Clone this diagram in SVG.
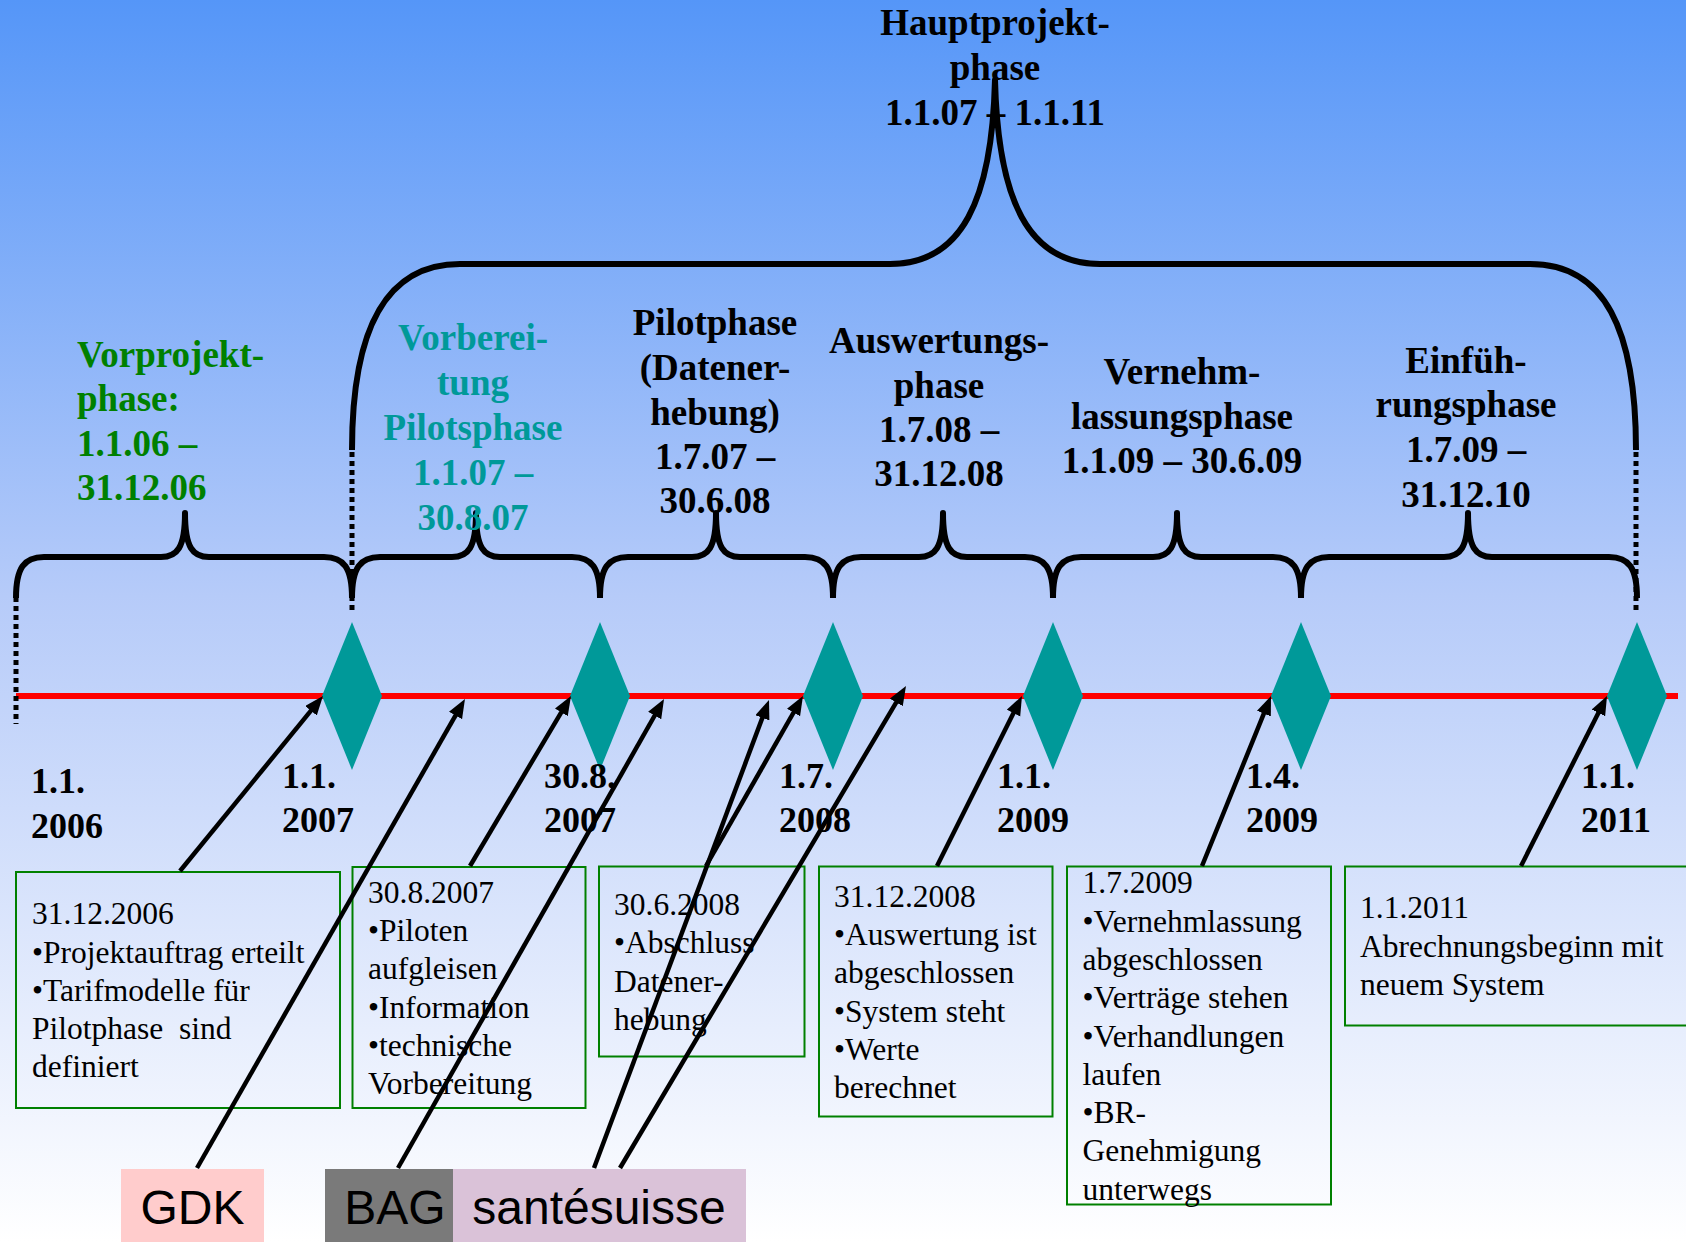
<svg xmlns="http://www.w3.org/2000/svg" width="1686" height="1242" viewBox="0 0 1686 1242">
<defs>
<linearGradient id="bg" x1="0" y1="0" x2="0" y2="1">
<stop offset="0" stop-color="#5596F8"/>
<stop offset="0.48" stop-color="#B6CBF9"/>
<stop offset="1" stop-color="#FFFFFF"/>
</linearGradient>
<marker id="ah" markerUnits="userSpaceOnUse" markerWidth="20" markerHeight="16" viewBox="0 0 20 16" refX="11" refY="7.5" orient="auto">
<path d="M0,0 L19,7.5 L0,15 z" fill="#000"/>
</marker>
<style>
.ph{font-family:"Liberation Serif","Times New Roman",serif;font-weight:bold;font-size:37px;}
.dt{font-family:"Liberation Serif","Times New Roman",serif;font-weight:bold;font-size:36px;fill:#000;}
.bx{font-family:"Liberation Serif","Times New Roman",serif;font-size:31.5px;fill:#000;}
.box{fill:none;stroke:#008000;stroke-width:2;}
.dia{fill:#009999;}
.brace{fill:none;stroke:#000;stroke-width:6;stroke-linejoin:round;}
.dot{fill:none;stroke:#000;stroke-width:5;stroke-dasharray:5 4;}
.arr{fill:none;stroke:#000;stroke-width:4.5;marker-end:url(#ah);}
.lab{font-family:"Liberation Sans",Arial,sans-serif;font-size:48px;fill:#000;}
</style>
</defs>
<rect x="0" y="0" width="1686" height="1242" fill="url(#bg)"/>

<g id="timeline">
<line x1="16" y1="696" x2="1678" y2="696" stroke="#FF0000" stroke-width="6"/>
</g>

<g id="dotted">
<line class="dot" x1="16" y1="597" x2="16" y2="724"/>
<line class="dot" x1="352" y1="452" x2="352" y2="614"/>
<line class="dot" x1="1636" y1="452" x2="1636" y2="614"/>
</g>

<g id="braces">
<path class="brace" d="M352,450 C352,330 385,264 460,264 L890,264 C962,264 992,200 995,80 C998,200 1028,264 1100,264 L1530,264 C1605,264 1636,330 1636,450"/>
<path class="brace" d="M16,598 C16,568 24,557 44,557 L161,557 C177,557 185,548 185,513 C185,548 193,557 209,557 L324,557 C344,557 352,568 352,598"/>
<path class="brace" d="M352,598 C352,568 360,557 380,557 L452,557 C468,557 476,548 476,513 C476,548 484,557 500,557 L572,557 C592,557 600,568 600,598"/>
<path class="brace" d="M600,598 C600,568 608,557 628,557 L692,557 C708,557 716,548 716,513 C716,548 724,557 740,557 L805,557 C825,557 833,568 833,598"/>
<path class="brace" d="M833,598 C833,568 841,557 861,557 L919,557 C935,557 943,548 943,513 C943,548 951,557 967,557 L1025,557 C1045,557 1053,568 1053,598"/>
<path class="brace" d="M1053,598 C1053,568 1061,557 1081,557 L1153,557 C1169,557 1177,548 1177,513 C1177,548 1185,557 1201,557 L1273,557 C1293,557 1301,568 1301,598"/>
<path class="brace" d="M1301,598 C1301,568 1309,557 1329,557 L1444,557 C1460,557 1468,548 1468,513 C1468,548 1476,557 1492,557 L1609,557 C1629,557 1637,568 1637,598"/>
</g>

<g id="phase-haupt" class="ph" text-anchor="middle" fill="#000">
<text x="995" y="35">Hauptprojekt-</text>
<text x="995" y="80">phase</text>
<text x="995" y="125">1.1.07 – 1.1.11</text>
</g>
<g id="phase-vorprojekt" class="ph" fill="#008000">
<text x="77" y="366.5">Vorprojekt-</text>
<text x="77" y="411">phase:</text>
<text x="77" y="455.5">1.1.06 –</text>
<text x="77" y="500">31.12.06</text>
</g>
<g id="phase-vorbereitung" class="ph" text-anchor="middle" fill="#009999">
<text x="473" y="350">Vorberei-</text>
<text x="473" y="395">tung</text>
<text x="473" y="440">Pilotsphase</text>
<text x="473" y="485">1.1.07 –</text>
<text x="473" y="530">30.8.07</text>
</g>
<g id="phase-pilot" class="ph" text-anchor="middle" fill="#000">
<text x="715" y="335">Pilotphase</text>
<text x="715" y="380">(Datener-</text>
<text x="715" y="425">hebung)</text>
<text x="715" y="469">1.7.07 –</text>
<text x="715" y="513">30.6.08</text>
</g>
<g id="phase-auswertung" class="ph" text-anchor="middle" fill="#000">
<text x="939" y="353">Auswertungs-</text>
<text x="939" y="398">phase</text>
<text x="939" y="442">1.7.08 –</text>
<text x="939" y="486">31.12.08</text>
</g>
<g id="phase-vernehmlassung" class="ph" text-anchor="middle" fill="#000">
<text x="1182" y="384">Vernehm-</text>
<text x="1182" y="429">lassungsphase</text>
<text x="1182" y="473">1.1.09 – 30.6.09</text>
</g>
<g id="phase-einfuehrung" class="ph" text-anchor="middle" fill="#000">
<text x="1466" y="373">Einfüh-</text>
<text x="1466" y="417">rungsphase</text>
<text x="1466" y="462">1.7.09 –</text>
<text x="1466" y="507">31.12.10</text>
</g>

<g id="m-2007-01"><polygon class="dia" points="352,622 382,696 352,770 322,696"/></g>
<g id="m-2007-08"><polygon class="dia" points="600,622 630,696 600,770 570,696"/></g>
<g id="m-2008-07"><polygon class="dia" points="833,622 863,696 833,770 803,696"/></g>
<g id="m-2009-01"><polygon class="dia" points="1053,622 1083,696 1053,770 1023,696"/></g>
<g id="m-2009-04"><polygon class="dia" points="1301,622 1331,696 1301,770 1271,696"/></g>
<g id="m-2011-01"><polygon class="dia" points="1637,622 1667,696 1637,770 1607,696"/></g>

<g id="dates" class="dt">
<text x="31" y="793">1.1.</text><text x="31" y="838">2006</text>
<text x="282" y="788">1.1.</text><text x="282" y="832">2007</text>
<text x="544" y="788">30.8.</text><text x="544" y="832">2007</text>
<text x="779" y="788">1.7.</text><text x="779" y="832">2008</text>
<text x="997" y="788">1.1.</text><text x="997" y="832">2009</text>
<text x="1246" y="788">1.4.</text><text x="1246" y="832">2009</text>
<text x="1581" y="788">1.1.</text><text x="1581" y="832">2011</text>
</g>

<g id="box-2006">
<rect class="box" x="16" y="872" width="324" height="236"/>
<text class="bx" x="32" y="924">31.12.2006</text>
<text class="bx" x="32" y="962.5">•Projektauftrag erteilt</text>
<text class="bx" x="32" y="1000.8">•Tarifmodelle für</text>
<text class="bx" x="32" y="1039" xml:space="preserve">Pilotphase  sind</text>
<text class="bx" x="32" y="1077.3">definiert</text>
</g>
<g id="box-2007">
<rect class="box" x="352.5" y="867" width="233" height="241"/>
<text class="bx" x="368" y="902.7">30.8.2007</text>
<text class="bx" x="368" y="941">•Piloten</text>
<text class="bx" x="368" y="979.3">aufgleisen</text>
<text class="bx" x="368" y="1017.6">•Information</text>
<text class="bx" x="368" y="1055.9">•technische</text>
<text class="bx" x="368" y="1094.2">Vorbereitung</text>
</g>
<g id="box-2008a">
<rect class="box" x="599" y="866.5" width="205.5" height="190"/>
<text class="bx" x="614" y="915">30.6.2008</text>
<text class="bx" x="614" y="953.3">•Abschluss</text>
<text class="bx" x="614" y="991.6">Datener-</text>
<text class="bx" x="614" y="1029.9">hebung</text>
</g>
<g id="box-2008b">
<rect class="box" x="819" y="866.5" width="233.5" height="250"/>
<text class="bx" x="834" y="906.7">31.12.2008</text>
<text class="bx" x="834" y="945">•Auswertung ist</text>
<text class="bx" x="834" y="983.3">abgeschlossen</text>
<text class="bx" x="834" y="1021.6">•System steht</text>
<text class="bx" x="834" y="1059.9">•Werte</text>
<text class="bx" x="834" y="1098.2">berechnet</text>
</g>
<g id="box-2009">
<rect class="box" x="1067" y="866.5" width="264" height="338"/>
<text class="bx" x="1082.5" y="893.3">1.7.2009</text>
<text class="bx" x="1082.5" y="931.6">•Vernehmlassung</text>
<text class="bx" x="1082.5" y="969.9">abgeschlossen</text>
<text class="bx" x="1082.5" y="1008.2">•Verträge stehen</text>
<text class="bx" x="1082.5" y="1046.5">•Verhandlungen</text>
<text class="bx" x="1082.5" y="1084.8">laufen</text>
<text class="bx" x="1082.5" y="1123.1">•BR-</text>
<text class="bx" x="1082.5" y="1161.4">Genehmigung</text>
<text class="bx" x="1082.5" y="1199.7">unterwegs</text>
</g>
<g id="box-2011">
<rect class="box" x="1345" y="866.5" width="350" height="159"/>
<text class="bx" x="1360" y="918.3">1.1.2011</text>
<text class="bx" x="1360" y="956.6">Abrechnungsbeginn mit</text>
<text class="bx" x="1360" y="994.9">neuem System</text>
</g>

<g id="gdk">
<rect x="121" y="1169" width="143" height="80" fill="#FFCCCC"/>
<text class="lab" x="192.5" y="1224" text-anchor="middle">GDK</text>
</g>
<g id="bag">
<rect x="325" y="1169" width="128" height="80" fill="#7A7A7A"/>
<text class="lab" x="395" y="1224" text-anchor="middle">BAG</text>
</g>
<g id="santesuisse">
<rect x="453" y="1169" width="293" height="80" fill="#DAC2D8"/>
<text class="lab" x="599" y="1224" text-anchor="middle">santésuisse</text>
</g>

<g id="connectors">
<line class="arr" x1="180" y1="871" x2="317.9" y2="702.2"/>
<line class="arr" x1="197" y1="1168" x2="461" y2="705.9"/>
<line class="arr" x1="470" y1="866" x2="566.9" y2="702.9"/>
<line class="arr" x1="398" y1="1168" x2="660.1" y2="706"/>
<line class="arr" x1="594" y1="1168" x2="766.2" y2="707.5"/>
<line class="arr" x1="620" y1="1168" x2="901.9" y2="692.9"/>
<line class="arr" x1="706" y1="866" x2="799" y2="703"/>
<line class="arr" x1="937" y1="866" x2="1018.4" y2="703.2"/>
<line class="arr" x1="1202" y1="866" x2="1268" y2="703.4"/>
<line class="arr" x1="1521" y1="866" x2="1603.4" y2="703.1"/>
</g>
</svg>
